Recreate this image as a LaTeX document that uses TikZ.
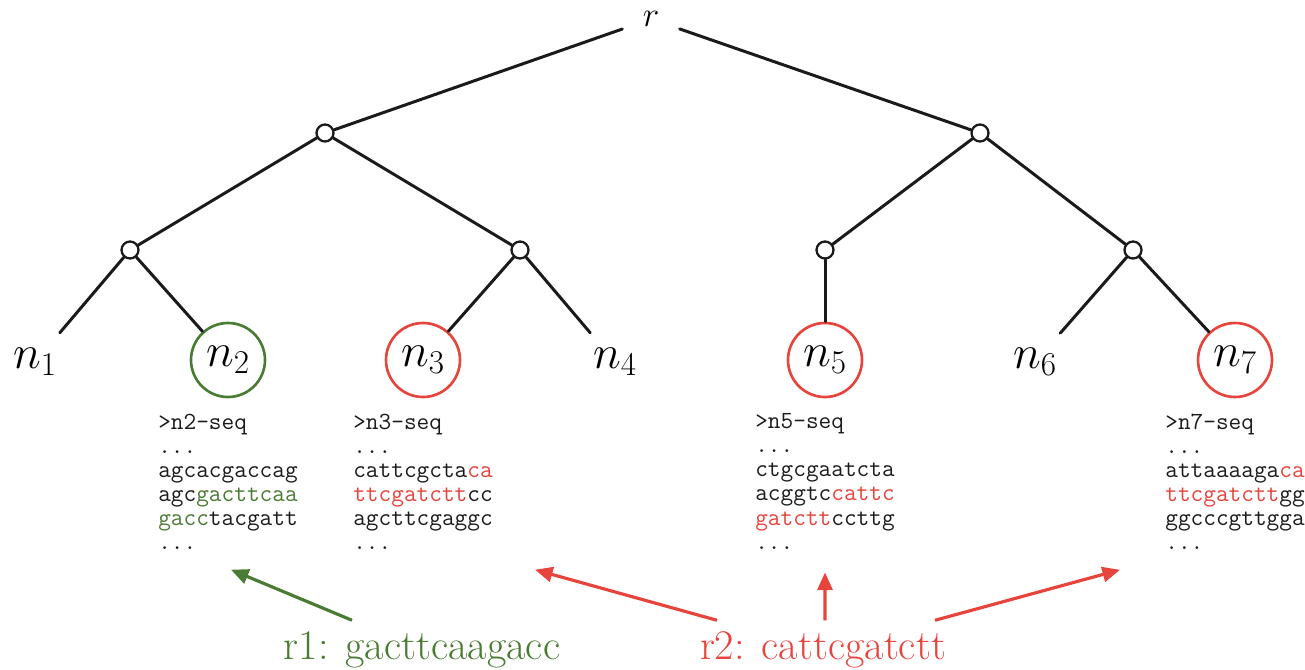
\RequirePackage{fix-cm}
\documentclass[tikz,border=0pt]{standalone}
\usepackage{amsmath}
\usepackage{xcolor}
\usepackage{tikz}
\usetikzlibrary{calc,positioning,arrows.meta}
\definecolor{ink}{HTML}{1A1A1A}
\definecolor{hitg}{HTML}{4A7B32}
\definecolor{hitr}{HTML}{E6443C}
\tikzset{
  edge/.style={draw=ink, line width=1.7pt, line cap=round},
  inner/.style={circle, draw=ink, fill=white, line width=1.3pt, minimum size=0.34cm, inner sep=0pt},
  leaf/.style={circle, minimum size=1.48cm, inner sep=0pt, line width=1.5pt, font=\fontsize{27}{32}\selectfont},
  rootlbl/.style={circle, minimum size=1.2cm, inner sep=0pt, font=\fontsize{20}{24}\selectfont},
  seq/.style={align=left, inner sep=0pt, text=ink, font=\fontsize{14}{13.7}\selectfont\ttfamily},
  readlbl/.style={inner sep=0pt, font=\fontsize{24}{28}\selectfont},
  hitarr/.style={line width=1.8pt, -{Triangle[length=10pt,width=8.5pt]}},
}
\begin{document}
\begin{tikzpicture}
  \useasboundingbox (0,0) rectangle (26.1,13.38);
  % tree
  \node[rootlbl] (r) at (13.02,13.0) {$r$};
  \node[inner] (a) at (6.5,10.72) {};
  \node[inner] (b) at (19.6,10.72) {};
  \node[inner] (c) at (2.6,8.38) {};
  \node[inner] (d) at (10.4,8.38) {};
  \node[inner] (e) at (16.5,8.38) {};
  \node[inner] (f) at (22.66,8.38) {};
  \node[leaf] (n1) at (0.7,6.14) {$n_1$};
  \node[leaf,draw=hitg] (n2) at (4.56,6.18) {$n_2$};
  \node[leaf,draw=hitr] (n3) at (8.46,6.18) {$n_3$};
  \node[leaf] (n4) at (12.3,6.14) {$n_4$};
  \node[leaf,draw=hitr] (n5) at (16.5,6.18) {$n_5$};
  \node[leaf] (n6) at (20.7,6.14) {$n_6$};
  \node[leaf,draw=hitr] (n7) at (24.7,6.18) {$n_7$};
  \draw[edge] (r) -- (a);
  \draw[edge] (r) -- (b);
  \draw[edge] (a) -- (c);
  \draw[edge] (a) -- (d);
  \draw[edge] (b) -- (e);
  \draw[edge] (b) -- (f);
  \draw[edge] (c) -- (n1);
  \draw[edge] (c) -- (n2);
  \draw[edge] (d) -- (n3);
  \draw[edge] (d) -- (n4);
  \draw[edge] (e) -- (n5);
  \draw[edge] (f) -- (n6);
  \draw[edge] (f) -- (n7);
  % sequences
  \node[seq,below=0.3cm of n2] (s2) {>n2-seq\\...\\agcacgaccag\\agc\textcolor{hitg}{gacttcaa}\\\textcolor{hitg}{gacc}tacgatt\\...};
  \node[seq,below=0.3cm of n3] (s3) {>n3-seq\\...\\cattcgcta\textcolor{hitr}{ca}\\\textcolor{hitr}{ttcgatctt}cc\\agcttcgaggc\\...};
  \node[seq,below=0.3cm of n5] (s5) {>n5-seq\\...\\ctgcgaatcta\\acggtc\textcolor{hitr}{cattc}\\\textcolor{hitr}{gatctt}ccttg\\...};
  \node[seq,below=0.3cm of n7] (s7) {>n7-seq\\...\\attaaaaga\textcolor{hitr}{ca}\\\textcolor{hitr}{ttcgatctt}gg\\ggcccgttgga\\...};
  % reads
  \node[readlbl,text=hitg,anchor=base] (r1) at (8.44,0.19) {r1: gacttcaagacc};
  \node[readlbl,text=hitr,anchor=base] (r2) at (16.46,0.19) {r2: cattcgatctt};
  \draw[hitarr,draw=hitg,fill=hitg] ($(r1.north)+(-1.4,0.22)$) -- ($(s2.south)+(0.06,-0.4)$);
  \draw[hitarr,draw=hitr,fill=hitr] ($(r2.north)+(-2.12,0.22)$) -- ($(s3.south)+(2.24,-0.4)$);
  \draw[hitarr,draw=hitr,fill=hitr] ($(r2.north)+(0.04,0.22)$) -- ($(s5.south)+(0,-0.46)$);
  \draw[hitarr,draw=hitr,fill=hitr] ($(r2.north)+(2.24,0.22)$) -- ($(s7.south)+(-2.3,-0.4)$);
\end{tikzpicture}
\end{document}
